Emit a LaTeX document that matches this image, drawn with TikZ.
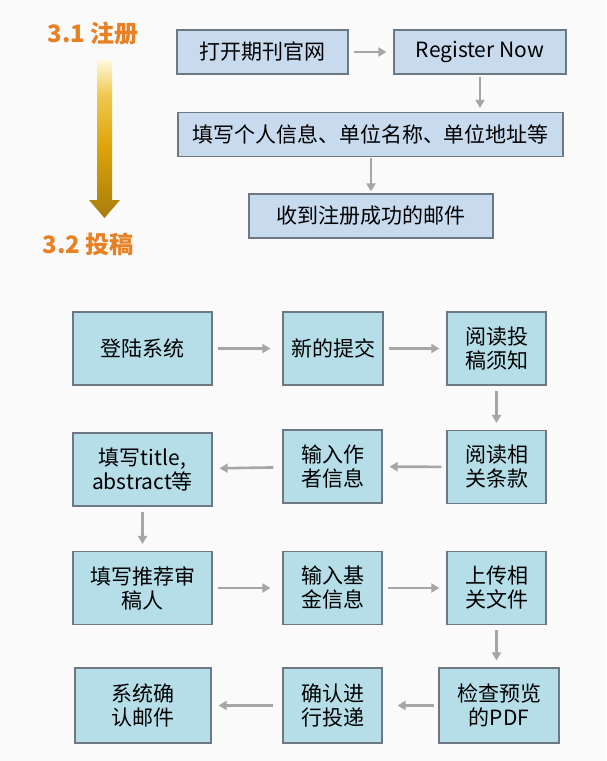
\documentclass[tikz,border=0pt]{standalone}
\usepackage{fontspec}
\setmainfont{Noto Sans CJK SC}
\usepackage{tikz}
\usetikzlibrary{arrows.meta}

\definecolor{regfill}{RGB}{200,218,238}
\definecolor{subfill}{RGB}{182,222,232}
\definecolor{boxline}{RGB}{110,120,130}
\definecolor{flowgray}{RGB}{166,166,166}
\definecolor{headorange}{RGB}{232,128,36}
\definecolor{goldcream}{RGB}{255,248,222}
\definecolor{goldlight}{RGB}{240,200,80}
\definecolor{goldmid}{RGB}{222,164,10}
\definecolor{golddark}{RGB}{168,124,12}
\pgfdeclareverticalshading{goldbar}{100bp}{color(0bp)=(golddark); color(25bp)=(golddark);
  color(48bp)=(goldmid); color(64bp)=(goldlight); color(75bp)=(goldcream); color(100bp)=(goldcream)}

\begin{document}
\begin{tikzpicture}[x=1pt, y=-1pt,
  regbox/.style={draw=boxline, line width=1.2pt, fill=regfill, inner sep=0pt,
    minimum height=44pt, font=\fontsize{21}{25}\selectfont},
  subbox/.style={draw=boxline, line width=1.2pt, fill=subfill, inner sep=0pt,
    align=center, minimum width=99pt, minimum height=73pt,
    font=\fontsize{21}{24}\selectfont},
  flow/.style={draw=flowgray, line width=2.6pt,
    -{Triangle[length=8pt,width=9pt]}, shorten <=5pt, shorten >=7pt},
  heading/.style={text=headorange, font=\fontsize{24}{28}\selectfont\bfseries}]

\fill [white!98!black] (0,0) rectangle (606,761);
\useasboundingbox (0,0) rectangle (606,761);

% 3.1 / 3.2
\node [heading] (reghead) at (93,33) {3.1 注册};
\node [heading] (subhead) at (88,244) {3.2 投稿};
\shade [shading=goldbar]
  (97,60) -- (112,60) -- (112,200) -- (120,200) -- (104.5,218) -- (89,200)
  -- (97,200) -- cycle;

% registration
\node [regbox, minimum width=171pt] (site) at (262.5,52) {打开期刊官网};
\node [regbox, minimum width=172pt] (regnow) at (480,52) {Register Now};
\node [regbox, minimum width=385pt] (info) at (370.5,134.5) {填写个人信息、单位名称、单位地址等};
\node [regbox, minimum width=244pt] (okmail) at (371,216) {收到注册成功的邮件};

\draw [flow] (site) -- (regnow);
\draw [flow, shorten <=2pt, shorten >=4pt] (regnow) -- (regnow |- info.north);
\draw [flow, shorten <=1pt, shorten >=2pt] (info.south -| okmail) -- (okmail);

% submission
\node [subbox, minimum width=139pt] (login) at (142.5,348.5) {登陆系统};
\node [subbox, minimum width=100pt] (newsub) at (333,348.5) {新的提交};
\node [subbox] (guide) at (496.5,348.5) {阅读投\\稿须知};
\node [subbox] (terms) at (496.5,467) {阅读相\\关条款};
\node [subbox] (author) at (332.5,466.5) {输入作\\者信息};
\node [subbox, minimum width=139pt] (title) at (142.5,469.5) {填写title,\\abstract等};
\node [subbox, minimum width=139pt] (review) at (142.5,588) {填写推荐审\\稿人};
\node [subbox] (fund) at (332.5,588) {输入基\\金信息};
\node [subbox] (upload) at (496.5,588) {上传相\\关文件};
\node [subbox, minimum width=120pt, minimum height=75pt] (check) at (499,705.5) {检查预览\\的PDF};
\node [subbox, minimum height=75pt] (submit) at (332.5,705.5) {确认进\\行投递};
\node [subbox, minimum width=136pt, minimum height=75pt] (confirm) at (143,705.5) {系统确\\认邮件};

\draw [flow, shorten >=12pt] (login) -- (newsub);
\draw [flow] (newsub) -- (guide);
\draw [flow] (guide) -- (terms);
\draw [flow] (terms) -- (author);
\draw [flow, shorten <=9pt] (author) -- (title);
\draw [flow] (title) -- (review);
\draw [flow, shorten >=12pt] (review) -- (fund);
\draw [flow] (fund) -- (upload);
\draw [flow] (upload) -- (upload |- check.north);
\draw [flow, shorten <=4pt, shorten >=15pt] (check) -- (submit);
\draw [flow, shorten <=9pt] (submit) -- (confirm);

\end{tikzpicture}
\end{document}
